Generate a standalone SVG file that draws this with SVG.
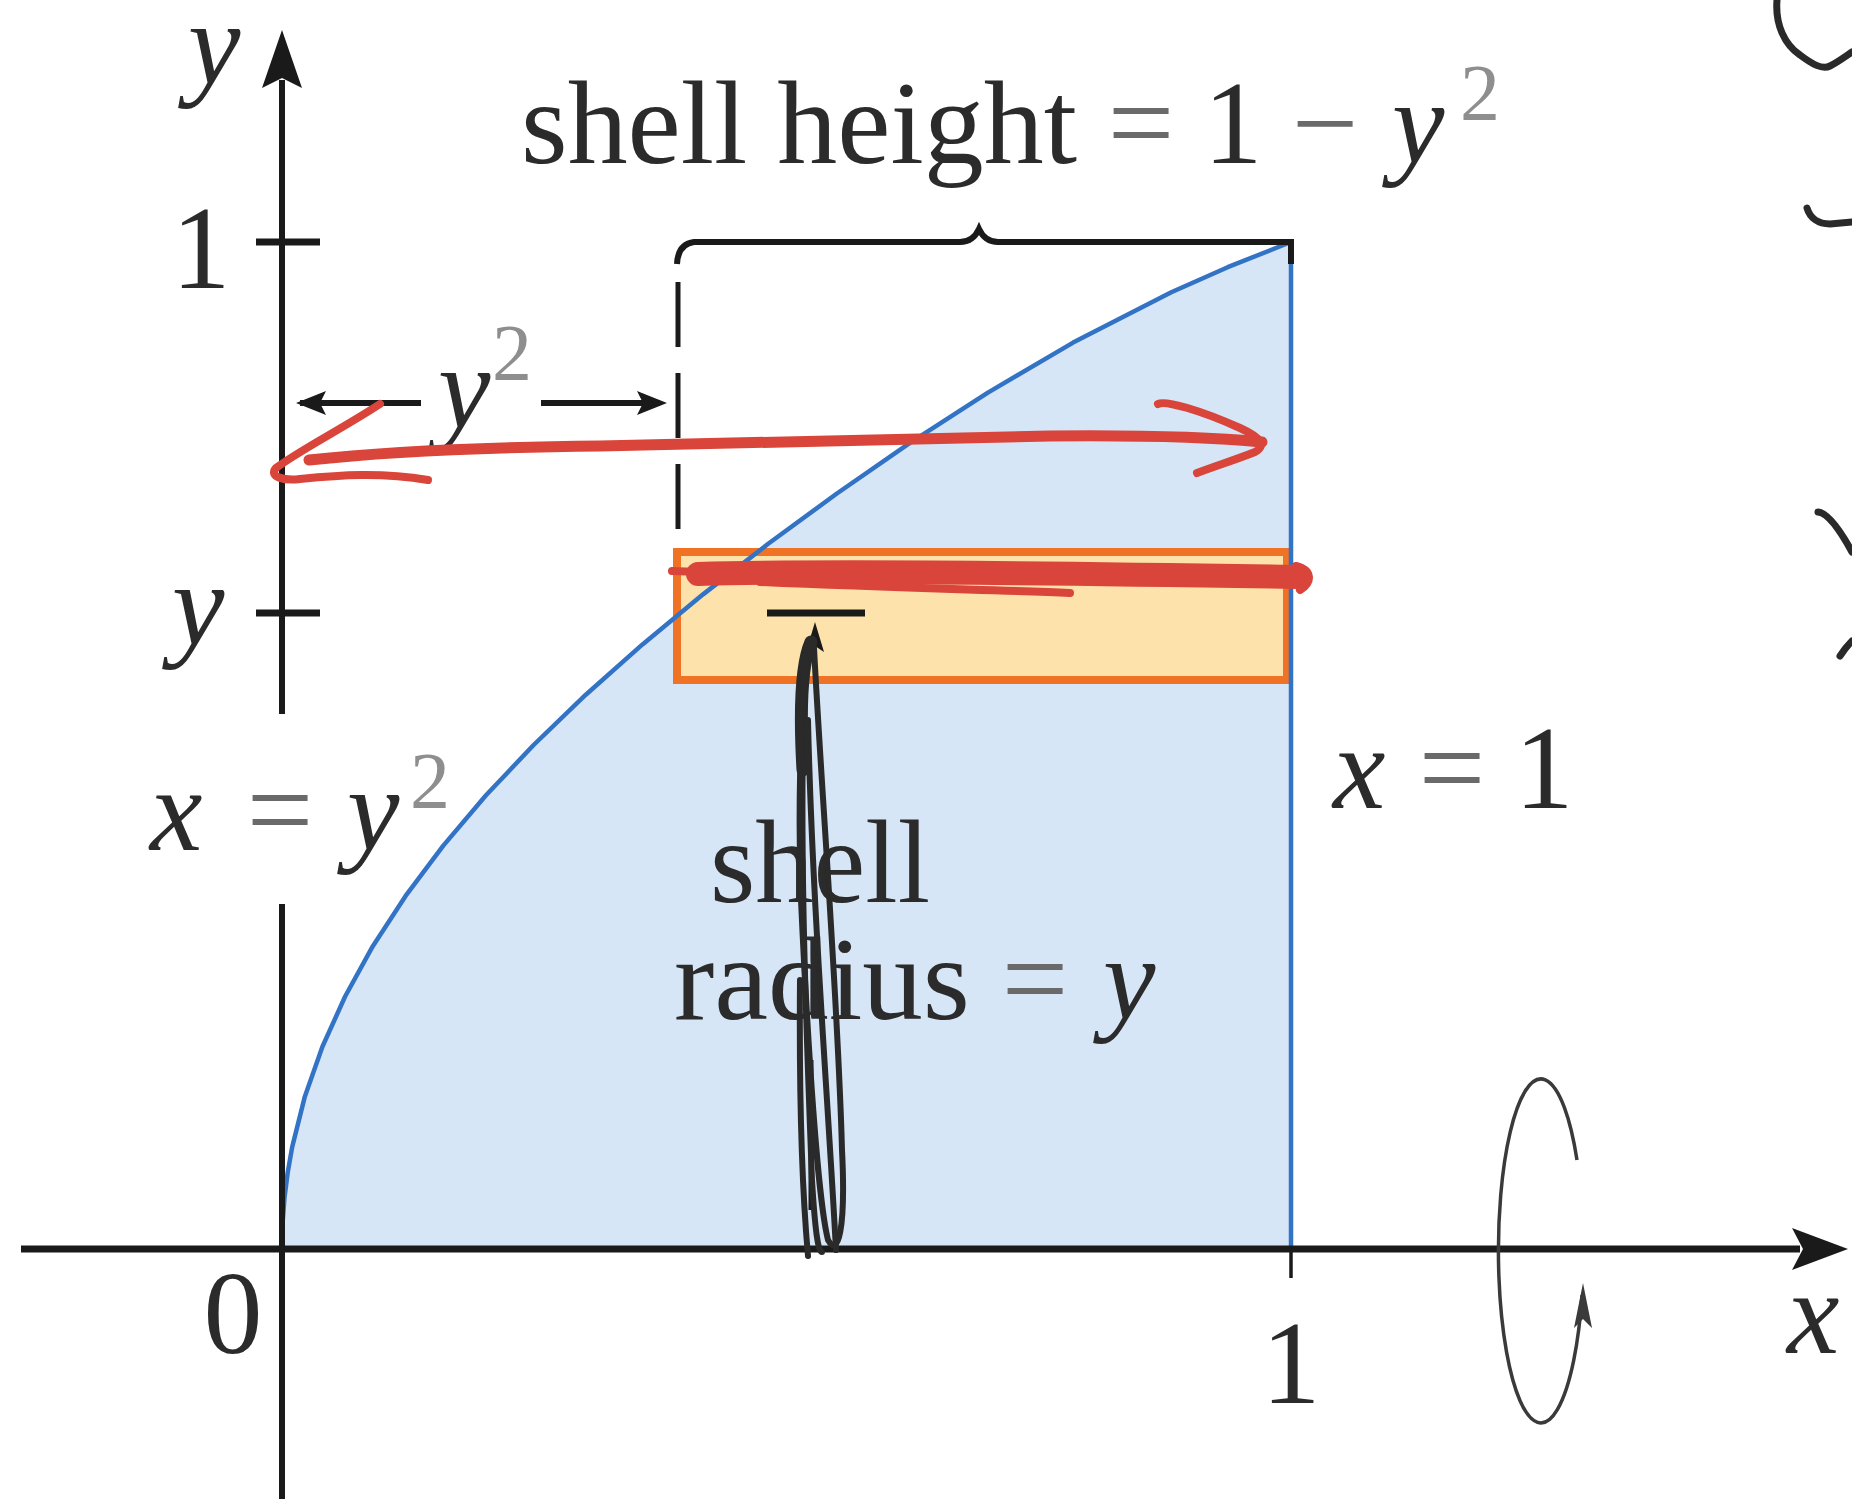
<svg xmlns="http://www.w3.org/2000/svg" width="1852" height="1499" viewBox="0 0 1852 1499">
<style>
.t{font-family:"Liberation Serif","Times New Roman",serif;fill:#2b2b2b;font-size:118px}
.i{font-style:italic}
.sup{fill:#8e8e8e;font-size:80px}
.eq{fill:#6a6a6a}
.ax{stroke:#1a1a1a;fill:none}
.red{stroke:#d9453a;fill:none;stroke-linecap:round;stroke-linejoin:round}
.pen{stroke:#2a2a2a;fill:none;stroke-linecap:round;stroke-linejoin:round}
</style>
<defs>
<polygon id="ahead" points="0,0 -30,-12 -24,0 -30,12" fill="#1a1a1a"/>
</defs>
<rect width="1852" height="1499" fill="#ffffff"/>

<g id="region">
<path fill="#d6e6f6" d="M282,1248 L282.6,1222.9 L284.5,1197.7 L287.7,1172.6 L292.1,1147.4 L304.7,1097.1 L322.4,1046.8 L345.1,996.5 L372.8,946.2 L405.6,895.9 L443.3,845.6 L486,795.3 L533.6,745 L585.8,694.7 L642.5,644.4 L703.4,594.1 L768.2,543.8 L836.9,493.5 L909.6,443.2 L987.5,392.9 L1073.1,342.6 L1171.3,292.3 L1227.7,267.2 L1291,242 L1291,1248 Z"/>
</g>

<g id="shell">
<rect x="677" y="552" width="610" height="128" fill="#fde2ab" stroke="#f07224" stroke-width="8"/>
<line x1="767" y1="613" x2="865" y2="613" stroke="#1a1a1a" stroke-width="7"/>
<polygon points="815,622 824,652 815,646 806,652" fill="#1a1a1a"/>
<line x1="811" y1="1060" x2="811" y2="1210" stroke="#1a1a1a" stroke-width="5"/>
</g>

<g id="curve">
<path fill="none" stroke="#3273c6" stroke-width="4.5" stroke-linejoin="round" d="M282,1248 L282.6,1222.9 L284.5,1197.7 L287.7,1172.6 L292.1,1147.4 L304.7,1097.1 L322.4,1046.8 L345.1,996.5 L372.8,946.2 L405.6,895.9 L443.3,845.6 L486,795.3 L533.6,745 L585.8,694.7 L642.5,644.4 L703.4,594.1 L768.2,543.8 L836.9,493.5 L909.6,443.2 L987.5,392.9 L1073.1,342.6 L1171.3,292.3 L1227.7,267.2 L1291,242"/>
<line x1="1291" y1="242" x2="1291" y2="1248" stroke="#3273c6" stroke-width="4.5"/>
</g>

<g id="axes">
<line class="ax" x1="282" y1="80" x2="282" y2="714" stroke-width="6"/>
<line class="ax" x1="282" y1="904" x2="282" y2="1499" stroke-width="6"/>
<polygon points="282,30 302,88 282,78 262,88" fill="#1a1a1a"/>
<line class="ax" x1="21" y1="1249" x2="1800" y2="1249" stroke-width="7"/>
<polygon points="1848,1249 1792,1228 1803,1249 1792,1270" fill="#1a1a1a"/>
<line class="ax" x1="256" y1="242" x2="320" y2="242" stroke-width="7"/>
<line class="ax" x1="256" y1="613" x2="320" y2="613" stroke-width="7"/>
<line class="ax" x1="1291" y1="1249" x2="1291" y2="1278" stroke-width="3.5"/>
</g>

<g id="connectors">
<path class="ax" stroke-width="6" d="M677,264 Q678,244 694,242 L960,242 Q973,242 979,229 Q985,242 998,242 L1291,242 L1291,264"/>
<line class="ax" x1="678" y1="282" x2="678" y2="532" stroke-width="5" stroke-dasharray="65 26"/>
<line class="ax" x1="300" y1="403" x2="421" y2="403" stroke-width="6"/>
<line class="ax" x1="541" y1="403" x2="660" y2="403" stroke-width="6"/>
<use href="#ahead" transform="translate(296,403) rotate(180)"/>
<use href="#ahead" transform="translate(667,403)"/>
<path stroke="#3a3a3a" stroke-width="3.5" fill="none" d="M1577,1160 A42.5,172 0 1 0 1582,1295"/>
<polygon points="1583,1283 1592,1328 1583,1319 1574,1328" fill="#3a3a3a"/>
</g>

<g id="labels">
<text class="t i" x="188" y="84" font-size="112">y</text>
<text class="t" x="201" y="288" text-anchor="middle" font-size="112">1</text>
<text class="t i" x="172" y="645">y</text>
<text class="t" x="521" y="163" textLength="556" lengthAdjust="spacingAndGlyphs">shell height</text>
<text class="t eq" x="1141" y="163" text-anchor="middle">=</text>
<text class="t" x="1233" y="163" text-anchor="middle">1</text>
<text class="t eq" x="1325" y="163" text-anchor="middle">−</text>
<text class="t i" x="1392" y="163">y</text>
<text class="t sup" x="1480" y="120" text-anchor="middle">2</text>
<text class="t i" x="438" y="428">y</text>
<text class="t sup" x="512" y="380" text-anchor="middle">2</text>
<text class="t i" x="150" y="850">x</text>
<text class="t eq" x="280" y="850" text-anchor="middle">=</text>
<text class="t i" x="347" y="850">y</text>
<text class="t sup" x="430" y="808" text-anchor="middle">2</text>
<text class="t i" x="1333" y="808">x</text>
<text class="t eq" x="1452" y="808" text-anchor="middle">=</text>
<text class="t" x="1544" y="808" text-anchor="middle">1</text>
<text class="t" x="710" y="902" textLength="220" lengthAdjust="spacingAndGlyphs">shell</text>
<text class="t" x="674" y="1019" textLength="296" lengthAdjust="spacingAndGlyphs">radius</text>
<text class="t eq" x="1035" y="1019" text-anchor="middle">=</text>
<text class="t i" x="1103" y="1019">y</text>
<text class="t" x="233" y="1353" text-anchor="middle" font-size="112">0</text>
<text class="t" x="1291" y="1403" text-anchor="middle" font-size="112">1</text>
<text class="t i" x="1787" y="1353">x</text>
</g>

<g id="handwriting">
<path class="red" stroke-width="11" d="M309,460 C400,450 500,447 600,446 C750,443 900,440 1050,436 C1150,435 1220,438 1262,442"/>
<path class="red" stroke-width="8" d="M380,404 C340,430 300,450 276,468 C268,477 285,481 300,479 C340,475 380,472 428,480"/>
<path class="red" stroke-width="8" d="M1158,404 C1165,400 1200,410 1240,428 C1262,438 1266,446 1255,452 C1235,460 1215,466 1197,473"/>
<path class="red" stroke-width="24" d="M698,574 C800,571 1000,572 1298,577"/>
<path class="red" stroke-width="8" d="M672,571 L700,572 M760,582 C900,588 1000,590 1070,593 M1296,566 C1312,570 1313,582 1300,590"/>
<path class="pen" stroke-width="13" d="M811,642 C803,660 799,700 803,770"/>
<path class="pen" stroke-width="6" d="M806,650 C798,800 805,1000 812,1180 C815,1230 818,1252 822,1252"/>
<path class="pen" stroke-width="6" d="M814,648 C822,800 838,1000 842,1150 C846,1230 838,1258 828,1240 C818,1200 808,1050 801,900 C798,820 800,720 806,660"/>
<path class="pen" stroke-width="6" d="M808,720 C812,900 828,1100 836,1250"/>
<path class="pen" stroke-width="6" d="M800,980 C799,1100 803,1200 808,1256"/>
<path class="pen" stroke="#333" stroke-width="7" d="M1777,0 C1775,25 1785,45 1800,55 C1812,64 1822,70 1830,66 C1838,62 1846,56 1852,52"/>
<path class="pen" stroke="#333" stroke-width="7" d="M1807,208 C1810,218 1818,224 1830,224 L1852,222"/>
<path class="pen" stroke="#333" stroke-width="7" d="M1818,512 C1828,513 1840,530 1852,552"/>
<path class="pen" stroke="#333" stroke-width="7" d="M1840,656 C1844,650 1848,645 1852,641"/>
</g>
</svg>
